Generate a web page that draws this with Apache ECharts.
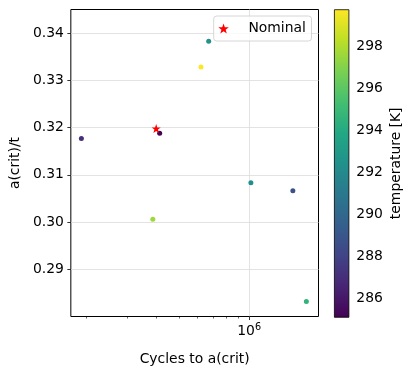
<!DOCTYPE html>
<html>
<head>
<meta charset="utf-8">
<script src="https://cdn.jsdelivr.net/npm/echarts@6/dist/echarts.min.js"></script>
<style>
  html, body { margin: 0; padding: 0; background: #fff; }
  #chart { width: 414px; height: 375px; }
</style>
</head>
<body>
<div id="chart"></div>
<script>
// runs: cycles to critical crack size, a(crit)/t ratio, temperature [K]
const cycles = [191400, 414000, 671000, 622000, 1017000, 1538000, 387000, 1757000]
const ratios = [0.3177, 0.3188, 0.3383, 0.3328, 0.3083, 0.3066, 0.3006, 0.2832]
const temps = [287.0, 285.1, 292.5, 299.78, 292.3, 288.7, 297.6, 294.6]

const nominalCycles = [400000]
const nominalRatios = [0.3198]

const yTicks = [0.29, 0.30, 0.31, 0.32, 0.33, 0.34]
const xMajorTicks = [1e6]
const xMinorTicks = [2e5, 3e5, 4e5, 5e5, 6e5, 7e5, 8e5, 9e5]
const tempTicks = [286, 288, 290, 292, 294, 296, 298]
const tempMin = 285.09
const tempMax = 299.78

const viridis = ['#440154', '#482475', '#414487', '#355f8d', '#2a788e', '#21918c',
  '#22a884', '#44bf70', '#7ad151', '#bddf26', '#fde725']

const font = 'DejaVu Sans'
const fs = 13.9
const STAR = 'path://M0,-10 L2.35,-3.24 L9.51,-3.09 L3.8,1.24 L5.88,8.09 L0,4 L-5.88,8.09 L-3.8,1.24 L-9.51,-3.09 L-2.35,-3.24 Z'

const chart = echarts.init(document.getElementById('chart'), null, { renderer: 'canvas' })

const runs = cycles.map((c, i) => [c, ratios[i], temps[i]])
const nominal = nominalCycles.map((c, i) => [c, nominalRatios[i]])

const gradStops = viridis.map((c, i) => ({ offset: i / (viridis.length - 1), color: c }))

chart.setOption({
  animation: false,
  textStyle: { fontFamily: font, color: '#000' },
  grid: [
    { left: 70.5, right: 95.5, top: 9.5, bottom: 58.5, show: true, borderColor: '#000', borderWidth: 1 },
    { left: 334, top: 9.3, width: 15.3, height: 308 },
  ],
  legend: {
    data: [{ name: 'Nominal', icon: STAR }],
    right: 102.5,
    top: 16,
    itemWidth: 27.8,
    itemHeight: 10,
    padding: [4.5, 5.6, 4.5, 4.6],
    backgroundColor: 'rgba(255,255,255,0.8)',
    borderColor: '#cccccc',
    borderWidth: 0.8,
    borderRadius: 3,
    textStyle: { fontFamily: font, fontSize: fs, color: '#000', lineHeight: 16, padding: [0, 0, 0, 6] },
  },
  visualMap: {
    show: false,
    type: 'continuous',
    seriesIndex: 0,
    dimension: 2,
    min: tempMin,
    max: tempMax,
    inRange: { color: viridis },
  },
  xAxis: [
    {
      type: 'log',
      gridIndex: 0,
      min: 172500,
      max: 1980000,
      name: 'Cycles to a(crit)',
      nameLocation: 'middle',
      nameGap: 36,
      nameTextStyle: { fontFamily: font, fontSize: fs, color: '#000' },
      axisLine: { show: false },
      axisTick: { customValues: xMajorTicks, length: 3.5, lineStyle: { color: '#000', width: 0.8 } },
      axisLabel: {
        customValues: xMajorTicks,
        margin: 6,
        formatter: () => '{b|10}{s|6}',
        rich: {
          b: { fontFamily: font, fontSize: fs, color: '#000' },
          s: { fontFamily: font, fontSize: 9.7, color: '#000', padding: [0, 0, 7, 0] },
        },
      },
      splitLine: { show: true, lineStyle: { color: '#dcdcdc', width: 0.8 } },
    },
    {
      type: 'log',
      gridIndex: 0,
      min: 172500,
      max: 1980000,
      position: 'bottom',
      axisLine: { show: false },
      axisTick: { customValues: xMinorTicks, length: 2, lineStyle: { color: '#000', width: 0.6 } },
      axisLabel: { show: false },
      splitLine: { show: false },
    },
    {
      type: 'category',
      gridIndex: 1,
      data: ['cbar'],
      show: false,
    },
  ],
  yAxis: [
    {
      type: 'value',
      gridIndex: 0,
      min: 0.28,
      max: 0.345,
      interval: 0.01,
      name: 'a(crit)/t',
      nameLocation: 'middle',
      nameGap: 43,
      nameTextStyle: { fontFamily: font, fontSize: fs, color: '#000' },
      axisLine: { show: false },
      axisTick: { customValues: yTicks, length: 3.5, lineStyle: { color: '#000', width: 0.8 } },
      axisLabel: {
        customValues: yTicks,
        margin: 7,
        fontFamily: font,
        fontSize: fs,
        color: '#000',
        formatter: (v) => v.toFixed(2),
      },
      splitLine: { show: true, lineStyle: { color: '#dcdcdc', width: 0.8 } },
    },
    {
      type: 'value',
      gridIndex: 1,
      position: 'right',
      min: tempMin,
      max: tempMax,
      name: 'temperature [K]',
      nameLocation: 'middle',
      nameRotate: 90,
      nameGap: 40,
      nameTextStyle: { fontFamily: font, fontSize: fs, color: '#000' },
      axisLine: { show: false },
      axisTick: { customValues: tempTicks, length: 3.5, lineStyle: { color: '#000', width: 0.8 } },
      axisLabel: { customValues: tempTicks, margin: 7, fontFamily: font, fontSize: fs, color: '#000' },
      splitLine: { show: false },
    },
  ],
  series: [
    {
      type: 'scatter',
      xAxisIndex: 0,
      yAxisIndex: 0,
      symbolSize: 5,
      itemStyle: { opacity: 1 },
      data: runs,
      z: 3,
    },
    {
      name: 'Nominal',
      type: 'scatter',
      xAxisIndex: 0,
      yAxisIndex: 0,
      symbol: STAR,
      symbolSize: 9,
      itemStyle: { color: '#ff0000', opacity: 1 },
      data: nominal,
      z: 4,
    },
    {
      type: 'bar',
      xAxisIndex: 2,
      yAxisIndex: 1,
      barWidth: '100%',
      data: [tempMax],
      clip: true,
      itemStyle: {
        color: new echarts.graphic.LinearGradient(0, 1, 0, 0, gradStops),
        borderColor: '#000',
        borderWidth: 0.8,
      },
      silent: true,
    },
  ],
})
</script>
</body>
</html>
